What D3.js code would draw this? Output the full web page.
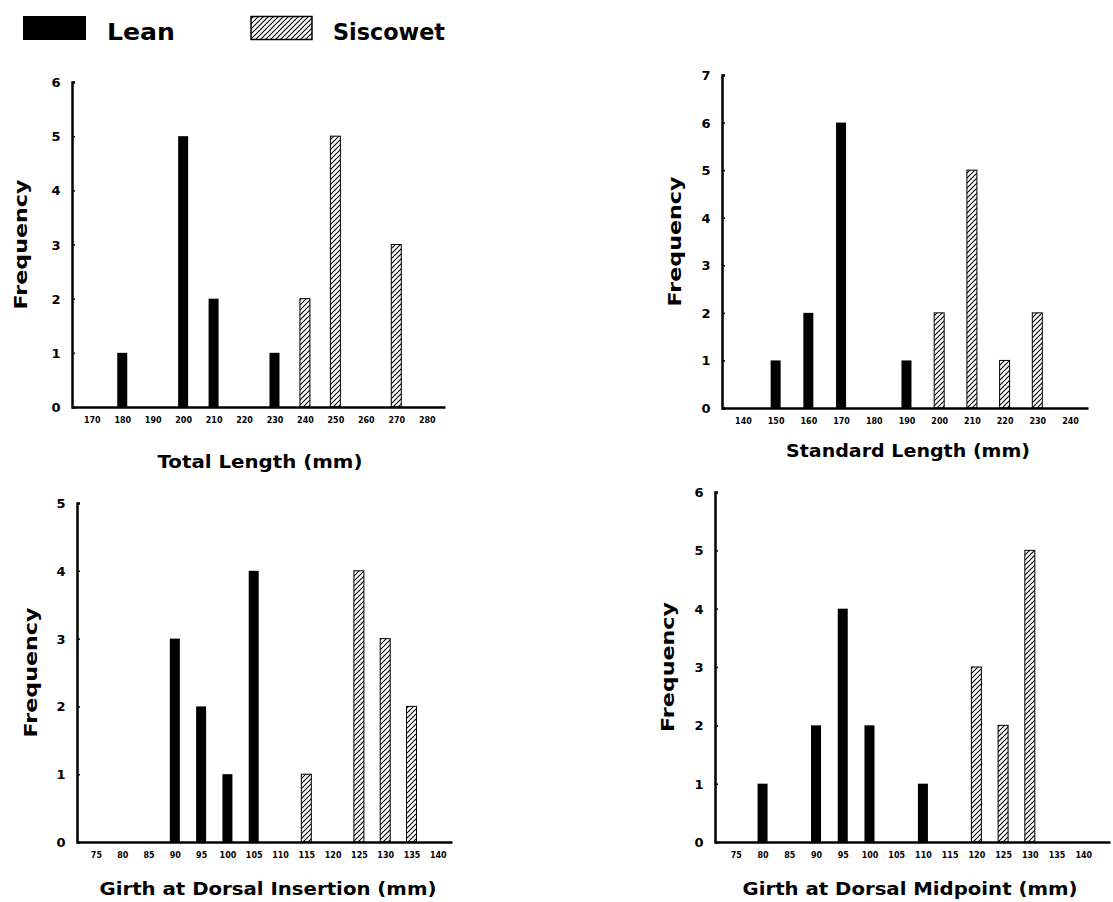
<!DOCTYPE html>
<html>
<head>
<meta charset="utf-8">
<script src="https://cdn.jsdelivr.net/npm/d3@7"></script>
<style>
  body { margin: 0; background: #fff; }
  svg { font-family: "DejaVu Sans", "Liberation Sans", Arial, sans-serif; font-weight: bold; }
</style>
</head>
<body>
<svg id="chart" width="1113" height="902"></svg>
<script>
// data per panel
const totalTicks = [170, 180, 190, 200, 210, 220, 230, 240, 250, 260, 270, 280];
const totalLean = [[180, 1], [200, 5], [210, 2], [230, 1]];
const totalSiscowet = [[240, 2], [250, 5], [270, 3]];

const standardTicks = [140, 150, 160, 170, 180, 190, 200, 210, 220, 230, 240];
const standardLean = [[150, 1], [160, 2], [170, 6], [190, 1]];
const standardSiscowet = [[200, 2], [210, 5], [220, 1], [230, 2]];

const insertionTicks = [75, 80, 85, 90, 95, 100, 105, 110, 115, 120, 125, 130, 135, 140];
const insertionLean = [[90, 3], [95, 2], [100, 1], [105, 4]];
const insertionSiscowet = [[115, 1], [125, 4], [130, 3], [135, 2]];

const midpointTicks = [75, 80, 85, 90, 95, 100, 105, 110, 115, 120, 125, 130, 135, 140];
const midpointLean = [[80, 1], [90, 2], [95, 4], [100, 2], [110, 1]];
const midpointSiscowet = [[120, 3], [125, 2], [130, 5]];

const panels = [
  { title: "Total Length (mm)", ticks: totalTicks, lean: totalLean, sis: totalSiscowet,
    xDom: [163.5, 286], yMax: 6, left: 72, right: 445, top: 82, bottom: 407,
    titleX: 260, titleY: 468, titleW: 205, freqX: 27 },
  { title: "Standard Length (mm)", ticks: standardTicks, lean: standardLean, sis: standardSiscowet,
    xDom: [133.6, 245.5], yMax: 7, left: 722, right: 1088, top: 75, bottom: 408,
    titleX: 908, titleY: 457, titleW: 244, freqX: 681 },
  { title: "Girth at Dorsal Insertion (mm)", ticks: insertionTicks, lean: insertionLean, sis: insertionSiscowet,
    xDom: [71.4, 142.7], yMax: 5, left: 77, right: 452, top: 503, bottom: 842,
    titleX: 268, titleY: 895, titleW: 337, freqX: 37 },
  { title: "Girth at Dorsal Midpoint (mm)", ticks: midpointTicks, lean: midpointLean, sis: midpointSiscowet,
    xDom: [71.1, 145], yMax: 6, left: 715, right: 1110, top: 492, bottom: 842,
    titleX: 910, titleY: 895, titleW: 335, freqX: 674 }
];

const svg = d3.select("#chart");

// hatch pattern
svg.append("defs").append("pattern")
  .attr("id", "hatch")
  .attr("patternUnits", "userSpaceOnUse")
  .attr("width", 5).attr("height", 5)
  .append("path")
  .attr("d", "M-1,1 l2,-2 M0,5 l5,-5 M4,6 l2,-2")
  .attr("stroke", "#000").attr("stroke-width", 1.1);

// legend
svg.append("rect").attr("x", 23).attr("y", 16).attr("width", 63).attr("height", 24).attr("fill", "#000");
svg.append("text").attr("x", 107).attr("y", 40).attr("font-size", 23)
  .attr("textLength", 68).attr("lengthAdjust", "spacingAndGlyphs").text("Lean");
svg.append("rect").attr("x", 251).attr("y", 16.5).attr("width", 61).attr("height", 23)
  .attr("fill", "url(#hatch)").attr("stroke", "#000").attr("stroke-width", 1.5);
svg.append("text").attr("x", 333).attr("y", 40).attr("font-size", 23)
  .attr("textLength", 112).attr("lengthAdjust", "spacingAndGlyphs").text("Siscowet");

const barW = 10;

panels.forEach(p => {
  const x = d3.scaleLinear().domain(p.xDom).range([p.left, p.right]);
  const y = d3.scaleLinear().domain([0, p.yMax]).range([p.bottom, p.top]);
  const g = svg.append("g");

  g.selectAll(".lean").data(p.lean).join("rect")
    .attr("x", d => x(d[0]) - barW / 2)
    .attr("y", d => y(d[1]))
    .attr("width", barW)
    .attr("height", d => y(0) - y(d[1]))
    .attr("fill", "#000");

  g.selectAll(".sis").data(p.sis).join("rect")
    .attr("x", d => x(d[0]) - barW / 2)
    .attr("y", d => y(d[1]))
    .attr("width", barW)
    .attr("height", d => y(0) - y(d[1]))
    .attr("fill", "url(#hatch)")
    .attr("stroke", "#000")
    .attr("stroke-width", 1);

  // y axis
  const yAxis = d3.axisRight(y).ticks(p.yMax).tickSize(3).tickFormat("");
  const ya = g.append("g").attr("transform", `translate(${p.left},0)`).call(yAxis);
  ya.select(".domain").attr("stroke-width", 2.5);
  ya.selectAll(".tick line").attr("stroke-width", 1.5);

  g.selectAll(".ylab").data(d3.range(0, p.yMax + 1)).join("text")
    .attr("x", p.left - 16)
    .attr("y", d => y(d) + 5)
    .attr("text-anchor", "middle")
    .style("font-size", "13px")
    .text(d => d);

  // x axis
  const xAxis = d3.axisBottom(x).tickValues(p.ticks).tickSize(0).tickPadding(10);
  const xa = g.append("g").attr("transform", `translate(0,${p.bottom})`).call(xAxis);
  xa.select(".domain").attr("stroke-width", 2.5);
  xa.selectAll(".tick text")
    .style("font-size", "8px")
    .style("font-family", "DejaVu Sans")
    .style("font-weight", "bold");

  g.append("text")
    .attr("x", p.titleX)
    .attr("y", p.titleY)
    .attr("text-anchor", "middle")
    .style("font-size", "18px")
    .attr("textLength", p.titleW)
    .attr("lengthAdjust", "spacingAndGlyphs")
    .text(p.title);

  g.append("text")
    .attr("transform", `translate(${p.freqX},${(p.top + p.bottom) / 2}) rotate(-90)`)
    .attr("text-anchor", "middle")
    .style("font-size", "18px")
    .attr("textLength", 130)
    .attr("lengthAdjust", "spacingAndGlyphs")
    .text("Frequency");
});
</script>
</body>
</html>
